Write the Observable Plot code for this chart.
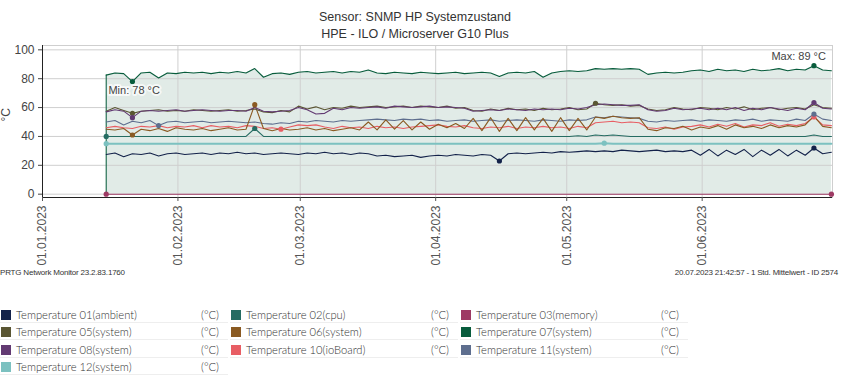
<!DOCTYPE html>
<html><head><meta charset="utf-8">
<script src="https://cdn.jsdelivr.net/npm/d3@7"></script>
<script src="https://cdn.jsdelivr.net/npm/@observablehq/plot@0.6"></script>
<style>
body{margin:0;background:#fff;width:861px;height:387px;position:relative;overflow:hidden;font-family:"Liberation Sans",Arial,sans-serif;}
#title{position:absolute;left:0;top:9px;width:830px;text-align:center;font-size:12.5px;line-height:17px;color:#333;}
#chart{position:absolute;left:0;top:40px;}
.foot{position:absolute;top:268px;font-size:8px;line-height:10px;color:#333;letter-spacing:-0.2px;white-space:nowrap;}
.item{position:absolute;width:228px;height:16px;border-bottom:1px solid #eee;font-family:Lato,"Liberation Sans",sans-serif;font-weight:300;font-size:11.2px;color:#333;}
.sw{position:absolute;left:1px;top:4px;width:10px;height:10px;}
.nm{position:absolute;left:16px;top:1px;line-height:16px;white-space:nowrap;}
.un{position:absolute;left:201px;top:1px;line-height:16px;}
</style></head>
<body>
<div id="title">Sensor: SNMP HP Systemzustand<br>HPE - ILO / Microserver G10 Plus</div>
<div id="chart"></div>
<div class="foot" style="left:0px">PRTG Network Monitor 23.2.83.1760</div>
<div class="foot" style="right:23px">20.07.2023 21:42:57 - 1 Std. Mittelwert - ID 2574</div>
<div id="legend"></div>
<script>
// sample times: every 2 days from 15.01.2023 14:00 (UTC)
const firstSample = "2023-01-15T14:00Z";
const sampleStepDays = 2;

const t01 = [27.5,28.5,26,28,27.5,28.5,26.5,28,28.5,27.5,
  28,28.5,27.5,28.5,28,29,28,28.5,27.5,28,
  28.5,28,27.5,28.5,28,29,28,28.5,27.5,28.5,
  28,26.5,27,26,26.5,27,25.5,26.5,27,26.5,
  27.5,27,26.5,27.5,27,23,28,28.5,28,28.5,
  29,28.5,29.5,29,29.5,30,29.5,30,29.5,30.5,
  30,29.5,30,30.5,29.5,30,29.5,30.5,27,31,
  26.5,30.5,27.5,31,26,30.5,27,31,26.5,30.5,
  27,32,28,29];
const t02 = [40,40,40,40,40,40,40,40,40,40,
  40,40,40,40,40,40,40,45.5,40,40,
  40,40,40,40,40,40,40,40,40,40,
  40,40,40,40,40,40,40,40,40,40,
  40,40,40,40,40,40,40,40,40,40,
  40,40,40,40,40.5,40,41,40.5,41,40.5,
  40,40,40,40,40,40,40,40,40,40,
  40,40,40,40,40,40,40,40,40,40,
  40,41,40,40];
const t03 = [0,0,0,0,0,0,0,0,0,0,
  0,0,0,0,0,0,0,0,0,0,
  0,0,0,0,0,0,0,0,0,0,
  0,0,0,0,0,0,0,0,0,0,
  0,0,0,0,0,0,0,0,0,0,
  0,0,0,0,0,0,0,0,0,0,
  0,0,0,0,0,0,0,0,0,0,
  0,0,0,0,0,0,0,0,0,0,
  0,0,0,0];
const t05 = [57.5,60,58,56,57.5,58,58.5,57.5,58,57.5,
  58.5,58,57.5,58,58.5,57.5,58,59,57,56.5,
  58,57,61,59,60.5,58.5,60,59.5,61,60,
  60.5,61,60,60.5,61,60,61,60.5,60,61,
  59.5,60,58,57.5,59,58,59.5,58.5,59,58,
  59.5,58.5,59,60,58.5,59,63,62,61.5,62,
  61,61.5,59,58,58.5,60,59,58.5,60,59.5,
  58.5,60,59,60.5,58.5,59.5,60,58.5,59.5,60,
  59,62,60,59.5];
const t06 = [45,44.5,45.5,41,45,44,45.5,43.5,46,45,
  44.5,45.5,44,45,46,44.5,45,62,45.5,44,
  45.5,44.5,45,46,44.5,45.5,44,45,46,44.5,
  50,44.5,51.5,45,51,44.5,50,45,48.5,46,
  49,45.5,52.5,44,53,43.5,52.5,44,53,44.5,
  52.5,43.5,53,44,52.5,44.5,53.5,52.5,54,53,
  52.5,53,45,44,46,45.5,47,44.5,46.5,45.5,
  47.5,45,48,46,47,45.5,48,46,47.5,46.5,
  48,54,47,46];
const t07 = [82.5,84,83.5,78,84,84.5,80.5,84,83.5,84.5,
  84,84.5,83.5,84.5,84,85,84,87,81,83.5,
  84,83,84.5,85,84,84.5,85,84,85,84.5,
  86,84,83.5,84.5,84,83.5,84.5,84,83.5,84,
  84.5,83.5,84,84.5,84,81.5,84,84.5,84,85,
  81,84,85,85.5,85,85.5,87,86.5,87,86.5,
  87,86.5,83,84,84.5,84,84.5,85.5,86,85,
  86.5,85.5,86,85,86.5,85.5,86,87,85.5,86.5,
  86,89,86,85.5];
const t08 = [57,58.5,57.5,53,57.5,58,57.5,58,58.5,57.5,
  58,58.5,58,57.5,58,58,57.5,60,57.5,57,
  57.5,58,60,58.5,55.5,56,59.5,58.5,60,59.5,
  60,60.5,59.5,61,60.5,60,60.5,61,60,60.5,
  60,59.5,57.5,58,58.5,58,59,58.5,58,59,
  58.5,59,58.5,59.5,59,60,62,62.5,62,61.5,
  61.5,62,58.5,57.5,58,59.5,58.5,59,59.5,58.5,
  59.5,58.5,60,58,59.5,58.5,60,59,58,59.5,
  58.5,63.5,59.5,59];
const t10 = [46,47,46,45.5,47,46.5,47.5,46,47,46.5,
  47.5,46,47.5,46.5,47,46,47.5,47,45.5,46,
  45,46.5,48,47.5,48,46.5,45.5,47,46,46.5,
  45.5,47,46,46.5,45.5,46.5,47,47.5,48,47,
  46.5,47.5,46,45.5,46.5,46,47,45.5,46.5,46,
  47,46,46.5,45.5,47,46,49.5,50,50.5,49.5,
  50,49.5,46,45.5,46.5,45,46.5,47,48,46.5,
  48.5,47,49,46.5,48,47.5,49.5,47,48.5,47.5,
  49,53.5,48,47.5];
const t11 = [50,51,48,50.5,49.5,51,47.5,50,50.5,49.5,
  50,50.5,49.5,50,50.5,50,49.5,50,49,48.5,
  49.5,49,50.5,50,51,50.5,50,51,50.5,51,
  51.5,52,51.5,51,52,51.5,52,51,51.5,50.5,
  51,51.5,50.5,51,51.5,50.5,51,51.5,51,50.5,
  51.5,51,50.5,51.5,51,51.5,53.5,53,54,53.5,
  53,52.5,50.5,50,51,50.5,51,51.5,50.5,51.5,
  51,50.5,51.5,51,52,50.5,51.5,51,50.5,52,
  51,55.5,52,51];
const t12 = [35,35,35,35,35,35,35,35,35,35,
  35,35,35,35,35,35,35,35,35,35,
  35,35,35,35,35,35,35,35,35,35,
  35,35,35,35,35,35,35,35,35,35,
  35,35,35,35,35,35,35,35,35,35,
  35,35,35,35,35,35,35,35.3,35,35,
  35,35,35,35,35,35,35,35,35,35,
  35,35,35,35,35,35,35,35,35,35,
  35,35,35,35];

const names = ["Temperature 01(ambient)","Temperature 02(cpu)","Temperature 03(memory)","Temperature 05(system)","Temperature 06(system)","Temperature 07(system)","Temperature 08(system)","Temperature 10(ioBoard)","Temperature 11(system)","Temperature 12(system)"];
const colors = ["#13224a","#256c62","#9e3a64","#5a5633","#8a5a22","#085c3c","#623a72","#e85e64","#5e6e8e","#7cc1c0"];
const valuesList = [t01,t02,t03,t05,t06,t07,t08,t10,t11,t12];
const unit = "(°C)";
const monthTicks = ["2023-01-01","2023-02-01","2023-03-01","2023-04-01","2023-05-01","2023-06-01"];
const yTicks = [0,20,40,60,80,100];
const xDomain = ["2023-01-01","2023-06-30T20:00Z"];
const yDomain = [-2.3,103];

const t0 = new Date(firstSample);
const dateAt = i => d3.utcDay.offset(t0, i*sampleStepDays);
const series = names.map((n,i)=>({name:n,color:colors[i],values:valuesList[i]}));
const toRows = s => s.values.map((v,i)=>({date:dateAt(i),value:v,name:s.name}));
const drawOrder = [9,2,1,0,8,7,4,3,6,5];
const rows = drawOrder.flatMap(i=>toRows(series[i]));
const extremes = series.flatMap(s=>{
  const mi = d3.minIndex(s.values);
  let ma = 0; s.values.forEach((v,i)=>{ if (v >= s.values[ma]) ma = i; });
  return [mi,ma].map(i=>({date:dateAt(i),value:s.values[i],name:s.name}));
});
const main = series[5];
const mainRows = toRows(main);
const minRow = mainRows[d3.minIndex(main.values)];
const maxRow = mainRows[d3.maxIndex(main.values)];

const chart = Plot.plot({
  width:861, height:230, marginLeft:42, marginRight:29, marginTop:5, marginBottom:73,
  style:{fontFamily:"'Liberation Sans',Arial,sans-serif",fontSize:"12px",background:"white",overflow:"visible"},
  x:{type:"utc",domain:xDomain.map(d=>new Date(d))},
  y:{domain:yDomain},
  color:{domain:names,range:colors},
  marks:[
    Plot.areaY(mainRows,{x:"date",y:"value",fill:main.color,fillOpacity:0.12}),
    Plot.gridY(yTicks,{stroke:"#cfcfcf",strokeOpacity:1}),
    Plot.gridX(monthTicks.map(d=>new Date(d)),{stroke:"#cfcfcf",strokeOpacity:1}),
    Plot.frame({stroke:"#cfcfcf"}),
    Plot.ruleX([mainRows[0]],{x:"date",y1:0,y2:"value",stroke:main.color}),
    Plot.line(rows,{x:"date",y:"value",z:"name",stroke:"name",strokeWidth:d=>d.name===names[9]?2:1.1}),
    Plot.dot(extremes,{x:"date",y:"value",fill:"name",r:2.6}),
    Plot.ruleY([yDomain[0]],{stroke:"#222"}),
    Plot.ruleX([new Date(xDomain[0])],{stroke:"#222"}),
    Plot.axisY(yTicks,{tickSize:4,tickPadding:4,fontSize:12,color:"#444",label:null}),
    Plot.axisX(monthTicks.map(d=>new Date(d)),{tickFormat:d3.utcFormat("%d.%m.%Y"),tickRotate:-90,tickSize:4,tickPadding:4,fontSize:12,color:"#555",label:null}),
    Plot.text(["°C"],{frameAnchor:"left",rotate:-90,dx:-36,fontSize:12,fill:"#444"}),
    Plot.text([minRow],{x:"date",y:"value",text:d=>`Min: ${d.value} °C`,textAnchor:"start",dx:-24,dy:9,fontSize:11,fill:"#444",stroke:"white",strokeWidth:4,strokeOpacity:0.7}),
    Plot.text([maxRow],{x:"date",y:"value",text:d=>`Max: ${d.value} °C`,textAnchor:"end",dx:12,dy:-9,fontSize:11,fill:"#444",stroke:"white",strokeWidth:4,strokeOpacity:0.7})
  ]
});
document.getElementById("chart").append(chart);

const legend = document.getElementById("legend");
series.forEach((s,i)=>{
  const r = Math.floor(i/3), c = i%3;
  const it = document.createElement("div");
  it.className="item";
  it.style.left = (230*c)+"px";
  it.style.top = (306+17.3*r)+"px";
  it.innerHTML = `<div class="sw" style="background:${s.color}"></div><div class="nm">${s.name}</div><div class="un">${unit}</div>`;
  legend.append(it);
});
</script>
</body></html>
